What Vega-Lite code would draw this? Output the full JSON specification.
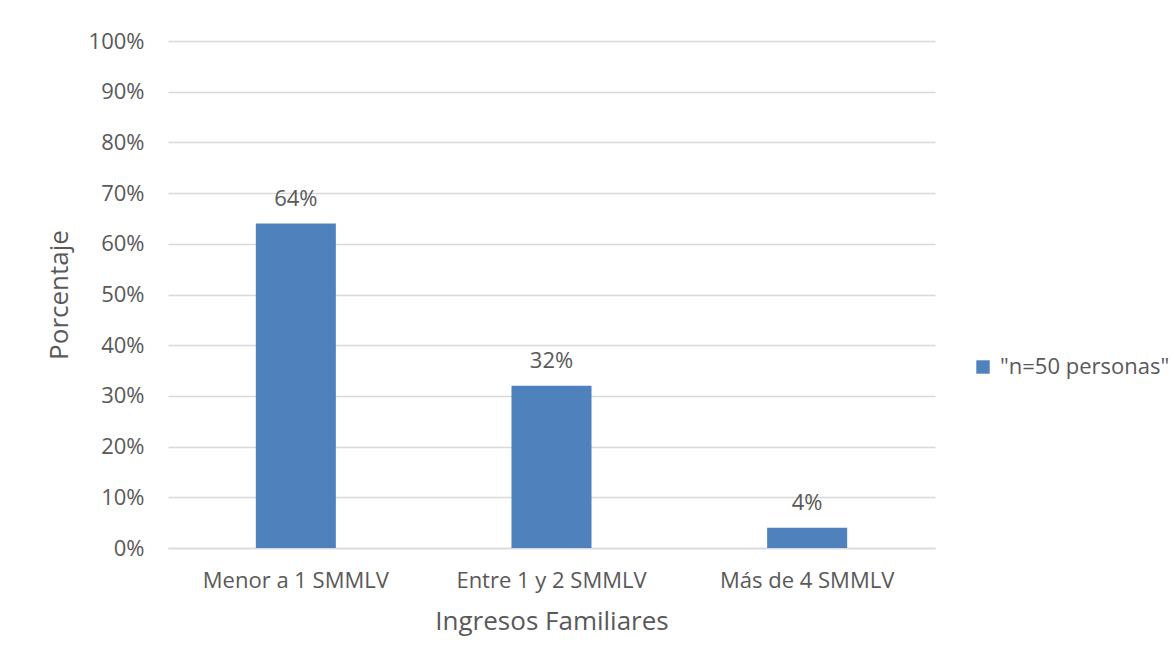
{
  "$schema": "https://vega.github.io/schema/vega-lite/v6.json",
  "width": 767,
  "height": 507,
  "autosize": {"type": "none"},
  "padding": {"left": 168, "top": 41, "right": 240, "bottom": 116},
  "background": "white",
  "config": {
    "font": "Open Sans",
    "view": {"stroke": null},
    "axis": {"labelColor": "#595959", "titleColor": "#595959", "labelFont": "Open Sans", "titleFont": "Open Sans"}
  },
  "data": {
    "values": [
      {"ingreso": "Menor a 1 SMMLV", "pct": 0.64, "serie": "\"n=50 personas\""},
      {"ingreso": "Entre 1 y 2 SMMLV", "pct": 0.32, "serie": "\"n=50 personas\""},
      {"ingreso": "Más de 4 SMMLV", "pct": 0.04, "serie": "\"n=50 personas\""}
    ]
  },
  "encoding": {
    "x": {
      "field": "ingreso",
      "type": "nominal",
      "sort": null,
      "scale": {"paddingInner": 0.687, "paddingOuter": 0.3435},
      "axis": {
        "title": "Ingresos Familiares",
        "titleFontSize": 26,
        "titleFontWeight": "normal",
        "titlePadding": 17,
        "labelFontSize": 22,
        "labelLimit": 0,
        "labelAngle": 0,
        "labelPadding": 22,
        "ticks": false,
        "domain": true,
        "domainColor": "#D9D9D9",
        "domainWidth": 1.5
      }
    },
    "y": {
      "field": "pct",
      "type": "quantitative",
      "scale": {"domain": [0, 1]},
      "axis": {
        "title": "Porcentaje",
        "titleFontSize": 26,
        "titleFontWeight": "normal",
        "titlePadding": 16,
        "labelFontSize": 22,
        "labelPadding": 24,
        "format": ".0%",
        "values": [0, 0.1, 0.2, 0.3, 0.4, 0.5, 0.6, 0.7, 0.8, 0.9, 1],
        "ticks": false,
        "domain": false,
        "grid": true,
        "gridColor": "#D9D9D9",
        "gridWidth": 1.5
      }
    }
  },
  "layer": [
    {
      "mark": {"type": "bar"},
      "encoding": {
        "color": {
          "field": "serie",
          "type": "nominal",
          "scale": {"range": ["#4F81BD"]},
          "legend": {
            "title": null,
            "orient": "none",
            "legendX": 804,
            "legendY": 315,
            "symbolType": "square",
            "symbolSize": 180,
            "symbolStrokeWidth": 0,
            "labelFontSize": 22,
            "labelLimit": 400,
            "labelColor": "#595959",
            "labelFont": "Open Sans",
            "labelOffset": 6
          }
        }
      }
    },
    {
      "mark": {"type": "text", "dy": -25, "fontSize": 22, "color": "#595959", "font": "Open Sans"},
      "encoding": {
        "text": {"field": "pct", "type": "quantitative", "format": ".0%"}
      }
    }
  ]
}
